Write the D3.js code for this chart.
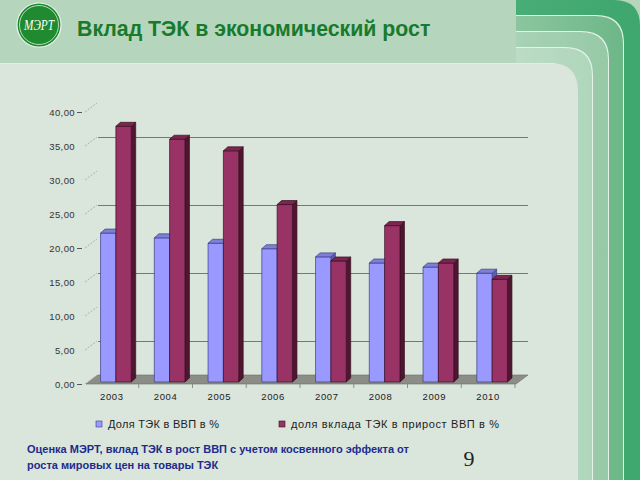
<!DOCTYPE html>
<html><head><meta charset="utf-8">
<script src="https://cdn.jsdelivr.net/npm/d3@7"></script>
<style>html,body{margin:0;padding:0;background:#fff;}svg{display:block;}</style>
</head><body>
<svg id="c" width="640" height="480"></svg>
<script>
// ---- data ----
const years = ["2003","2004","2005","2006","2007","2008","2009","2010"];
const shareGDP = [21.9, 21.2, 20.4, 19.6, 18.4, 17.5, 16.9, 16.0];
const shareGrowth = [37.6, 35.7, 34.0, 26.1, 17.8, 23.0, 17.5, 15.1];
const yTicks = [0,5,10,15,20,25,30,35,40];
const gridValues = [5,15,25,35];
const seriesNames = ["Доля ТЭК в ВВП в %", "доля вклада ТЭК в прирост ВВП в %"];
const titleText = "Вклад ТЭК в экономический рост";
const noteLines = ["Оценка МЭРТ, вклад ТЭК в рост ВВП с учетом косвенного эффекта от",
                   "роста мировых цен на товары ТЭК"];
const pageNum = "9";

const svg = d3.select("#c");
const W = 640, H = 480;

// ---- slide background ----
const defs = svg.append("defs");
function grad(id, c0, c1){
  const g = defs.append("linearGradient").attr("id", id).attr("x1","0").attr("x2","1").attr("y1","0").attr("y2","0");
  g.append("stop").attr("offset","0").attr("stop-color", c0);
  g.append("stop").attr("offset","1").attr("stop-color", c1);
}
grad("gDark", "#48ad76", "#3ea76d");
grad("gMed", "#8cc5a0", "#6db787");
grad("gLt", "#a9d2b6", "#96c9a6");
grad("gXlt", "#bcdcc5", "#afd6bb");

svg.append("rect").attr("width", W).attr("height", H).attr("fill", "#e6efe8");
svg.append("rect").attr("width", W).attr("height", 64).attr("fill", "#b5d6bd");

function roundTR(x0, y0, x1, y1, r){
  return `M${x0},${H}L${x0},${y0}L${x1-r},${y0}Q${x1},${y0} ${x1},${y0+r}L${x1},${H}Z`;
}
svg.append("path").attr("d", roundTR(516, 0, 640, H, 26)).attr("fill", "url(#gDark)");
svg.append("path").attr("d", roundTR(516, 15, 624, H, 28)).attr("fill", "#e4f2e8");
svg.append("path").attr("d", roundTR(516, 16, 623, H, 28)).attr("fill", "url(#gMed)");
svg.append("path").attr("d", roundTR(516, 31, 609, H, 28)).attr("fill", "#e4f2e8");
svg.append("path").attr("d", roundTR(516, 32, 608, H, 28)).attr("fill", "url(#gLt)");
svg.append("path").attr("d", roundTR(516, 47, 593, H, 28)).attr("fill", "#e4f2e8");
svg.append("path").attr("d", roundTR(516, 48, 592, H, 28)).attr("fill", "url(#gXlt)");
svg.append("path").attr("d", roundTR(0, 63, 578, H, 28)).attr("fill", "#dae5db");
svg.append("line").attr("x1",0).attr("x2",555).attr("y1",63.5).attr("y2",63.5).attr("stroke","#e3ede5").attr("stroke-width",1);

// ---- logo ----
const logo = svg.append("g").attr("transform","translate(39,25)");
logo.append("circle").attr("r", 22).attr("fill", "#1f8a2f").attr("stroke","#e8f3ea").attr("stroke-width",1.2);
logo.append("circle").attr("r", 19.5).attr("fill", "none").attr("stroke","#d8eedc").attr("stroke-width",0.8);
logo.append("text").attr("x",0).attr("y",5).attr("text-anchor","middle")
  .attr("font-family","Liberation Serif, serif").attr("font-style","italic").attr("font-size",15)
  .attr("fill","#ffffff").text("МЭРТ").attr("textLength",30).attr("lengthAdjust","spacingAndGlyphs");

// ---- title ----
svg.append("text").attr("x", 77).attr("y", 36)
  .attr("font-family","Liberation Sans, Arial, sans-serif").attr("font-weight","bold").attr("font-size", 21.3)
  .attr("fill","#1a7a2c").text(titleText);

// ---- chart ----
const y = d3.scaleLinear().domain([0, 40]).range([384, 112]);
const x = d3.scaleBand().domain(years).range([89, 519]).paddingInner(0.43).paddingOuter(0.215);
const xs = d3.scaleBand().domain([0,1]).range([0, x.bandwidth()]);
const depthX = 12, depthY = 9;      // floor / wall depth
const barDX = 4.5, barDY = 4;        // bar depth
const barOff = 2;                    // bar set back from front edge

// floor
svg.append("path")
  .attr("d", `M86,${y(0)}L516,${y(0)}L${516+depthX},${y(0)-depthY}L${86+depthX},${y(0)-depthY}Z`)
  .attr("fill", "#8b8d86").attr("stroke","#6d706a").attr("stroke-width",0.6);

// back wall gridlines
svg.append("g").selectAll("line").data(gridValues).join("line")
  .attr("x1", 86+depthX).attr("x2", 516+depthX)
  .attr("y1", d => y(d)-depthY+0.5).attr("y2", d => y(d)-depthY+0.5)
  .attr("stroke", "#727b72").attr("stroke-width", 1);

// y axis: diagonal dashed ticks + labels
const yax = svg.append("g");
yax.selectAll("line.diag").data(yTicks).join("line").attr("class","diag")
  .attr("x1", 85).attr("y1", d => y(d)).attr("x2", 85+depthX).attr("y2", d => y(d)-depthY)
  .attr("stroke", "#9aa29a").attr("stroke-width", 0.8).attr("stroke-dasharray","2,1.5");
yax.selectAll("line.maj").data(yTicks.filter(d => d % 20 === 0)).join("line").attr("class","maj")
  .attr("x1", 77).attr("x2", 82).attr("y1", d => y(d)+0.5).attr("y2", d => y(d)+0.5)
  .attr("stroke", "#555").attr("stroke-width", 1);
const fmt = d3.format(".2f");
yax.selectAll("text").data(yTicks).join("text")
  .attr("x", 75).attr("y", d => y(d)+3.5).attr("text-anchor","end")
  .attr("font-family","Liberation Sans, Arial, sans-serif").attr("font-size", 9.5)
  .attr("fill","#333").attr("letter-spacing", 0.4)
  .text(d => fmt(d).replace(".", ","));

// category ticks (band boundaries, front edge) + labels
const step = x.step();
const bounds = d3.range(1, years.length + 1).map(i => x(years[0]) - x.paddingOuter()*step + i*step);
svg.append("g").selectAll("line").data(bounds).join("line")
  .attr("x1", d => d - 4).attr("x2", d => d - 4)
  .attr("y1", y(0)).attr("y2", y(0)+4).attr("stroke","#777").attr("stroke-width",0.8);
svg.append("g").selectAll("text").data(years).join("text")
  .attr("x", d => x(d) + x.bandwidth()/2 - 4).attr("y", 400).attr("text-anchor","middle")
  .attr("font-family","Liberation Sans, Arial, sans-serif").attr("font-size", 9.5)
  .attr("fill","#222").attr("letter-spacing", 0.6).text(d => d);

// bars
const series = [
  {vals: shareGDP, front: "#9999ff", top: "#7d80d6", side: "#5c5fae", stroke: "#3b3d86"},
  {vals: shareGrowth, front: "#993366", top: "#7d2550", side: "#4e1630", stroke: "#3a0f22"}
];
const bars = svg.append("g");
years.forEach((yr, i) => {
  series.forEach((s, k) => {
    const x0 = x(yr) + xs(k);
    const w = xs.bandwidth();
    const yb = y(0) - barOff;
    const yt = y(s.vals[i]) - barOff;
    const g = bars.append("g").attr("stroke", s.stroke).attr("stroke-width", 0.7).attr("stroke-linejoin","round");
    g.append("path").attr("d", `M${x0+w},${yt}L${x0+w+barDX},${yt-barDY}L${x0+w+barDX},${yb-barDY}L${x0+w},${yb}Z`).attr("fill", s.side);
    g.append("rect").attr("x", x0).attr("y", yt).attr("width", w).attr("height", yb-yt).attr("fill", s.front);
    g.append("path").attr("d", `M${x0},${yt}L${x0+barDX},${yt-barDY}L${x0+w+barDX},${yt-barDY}L${x0+w},${yt}Z`).attr("fill", s.top);
  });
});

// legend
const leg = svg.append("g");
const legX = [96, 279];
const legW = [111, 208];
seriesNames.forEach((n, k) => {
  leg.append("rect").attr("x", legX[k]).attr("y", 421).attr("width", 6).attr("height", 6)
    .attr("fill", series[k].front).attr("stroke", series[k].stroke).attr("stroke-width", 0.6);
  leg.append("text").attr("x", legX[k] + 12).attr("y", 428)
    .attr("font-family","Liberation Sans, Arial, sans-serif").attr("font-size", 11)
    .attr("fill","#1e1e1e").attr("textLength", legW[k]).attr("lengthAdjust","spacing").text(n);
});

// footnote
svg.append("g").selectAll("text").data(noteLines).join("text")
  .attr("x", 27).attr("y", (d,i) => 453 + i*16)
  .attr("font-family","Liberation Sans, Arial, sans-serif").attr("font-weight","bold").attr("font-size", 11)
  .attr("fill","#1d2c8c").text(d => d);

svg.append("text").attr("x", 469).attr("y", 466).attr("text-anchor","middle")
  .attr("font-family","Liberation Serif, Times New Roman, serif").attr("font-size", 22)
  .attr("fill","#222").text(pageNum);
</script>
</body></html>
